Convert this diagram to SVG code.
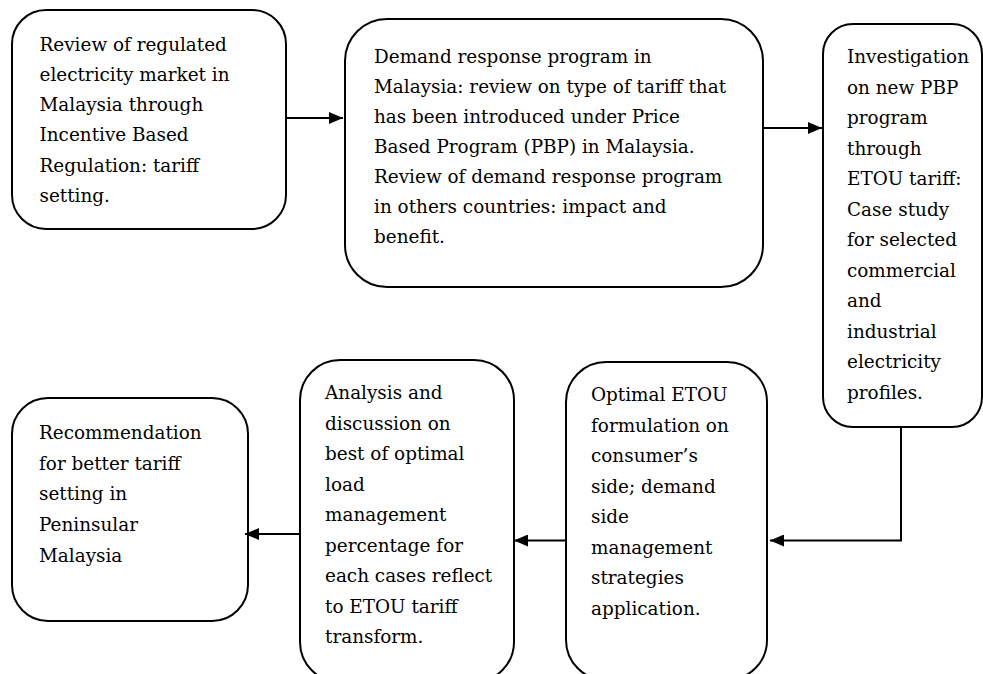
<svg xmlns="http://www.w3.org/2000/svg" width="983" height="674" viewBox="0 0 983 674">
<style>
.box{fill:#fff;stroke:#000;stroke-width:2}
.t{font-family:"DejaVu Serif",serif;font-size:18.4px;fill:#000}
.c{fill:none;stroke:#000;stroke-width:2}
</style>
<defs>
<marker id="ah" markerUnits="userSpaceOnUse" markerWidth="14" markerHeight="12" refX="14" refY="6" orient="auto">
<path d="M0,0 L14,6 L0,12 z" fill="#000"/>
</marker>
</defs>
<rect width="983" height="674" fill="#fff"/>
<g id="n1">
<rect class="box" x="12" y="10" width="274" height="219" rx="34" ry="34"/>
<text class="t" x="39.5" y="51">Review of regulated</text>
<text class="t" x="39.5" y="81">electricity market in</text>
<text class="t" x="39.5" y="111">Malaysia through</text>
<text class="t" x="39.5" y="141">Incentive Based</text>
<text class="t" x="39.5" y="171.5">Regulation: tariff</text>
<text class="t" x="39.5" y="201.5">setting.</text>
</g>
<g id="n2">
<rect class="box" x="345" y="19" width="418" height="268" rx="42" ry="42"/>
<text class="t" x="374" y="63">Demand response program in</text>
<text class="t" x="374" y="93">Malaysia: review on type of tariff that</text>
<text class="t" x="374" y="123">has been introduced under Price</text>
<text class="t" x="374" y="153">Based Program (PBP) in Malaysia.</text>
<text class="t" x="374" y="183">Review of demand response program</text>
<text class="t" x="374" y="213">in others countries: impact and</text>
<text class="t" x="374" y="243">benefit.</text>
</g>
<g id="n3">
<rect class="box" x="823" y="24" width="159" height="403" rx="30" ry="30"/>
<text class="t" x="847" y="63">Investigation</text>
<text class="t" x="847" y="93.5">on new PBP</text>
<text class="t" x="847" y="124">program</text>
<text class="t" x="847" y="154.5">through</text>
<text class="t" x="847" y="185">ETOU tariff:</text>
<text class="t" x="847" y="215.5">Case study</text>
<text class="t" x="847" y="246">for selected</text>
<text class="t" x="847" y="276.5">commercial</text>
<text class="t" x="847" y="307">and</text>
<text class="t" x="847" y="337.5">industrial</text>
<text class="t" x="847" y="368">electricity</text>
<text class="t" x="847" y="398.5">profiles.</text>
</g>
<g id="n4">
<rect class="box" x="566" y="362" width="201" height="318" rx="40" ry="40"/>
<text class="t" x="591" y="401">Optimal ETOU</text>
<text class="t" x="591" y="431.5">formulation on</text>
<text class="t" x="591" y="462">consumer’s</text>
<text class="t" x="591" y="492.5">side; demand</text>
<text class="t" x="591" y="523">side</text>
<text class="t" x="591" y="553.5">management</text>
<text class="t" x="591" y="584">strategies</text>
<text class="t" x="591" y="614.5">application.</text>
</g>
<g id="n5">
<rect class="box" x="300" y="360" width="214" height="322" rx="40" ry="40"/>
<text class="t" x="325" y="399">Analysis and</text>
<text class="t" x="325" y="429.5">discussion on</text>
<text class="t" x="325" y="460">best of optimal</text>
<text class="t" x="325" y="490.5">load</text>
<text class="t" x="325" y="521">management</text>
<text class="t" x="325" y="551.5">percentage for</text>
<text class="t" x="325" y="582">each cases reflect</text>
<text class="t" x="325" y="612.5">to ETOU tariff</text>
<text class="t" x="325" y="643">transform.</text>
</g>
<g id="n6">
<rect class="box" x="12" y="398" width="236" height="223" rx="36" ry="36"/>
<text class="t" x="39" y="439">Recommendation</text>
<text class="t" x="39" y="469.7">for better tariff</text>
<text class="t" x="39" y="500.4">setting in</text>
<text class="t" x="39" y="531.1">Peninsular</text>
<text class="t" x="39" y="561.8">Malaysia</text>
</g>
<g id="connectors">
<line class="c" x1="286" y1="118" x2="343" y2="118" marker-end="url(#ah)"/>
<line class="c" x1="763" y1="128" x2="822" y2="128" marker-end="url(#ah)"/>
<polyline class="c" points="901,427 901,540.5 770,540.5" marker-end="url(#ah)"/>
<line class="c" x1="566" y1="540.5" x2="514" y2="540.5" marker-end="url(#ah)"/>
<line class="c" x1="300" y1="534" x2="245" y2="534" marker-end="url(#ah)"/>
</g>
</svg>
